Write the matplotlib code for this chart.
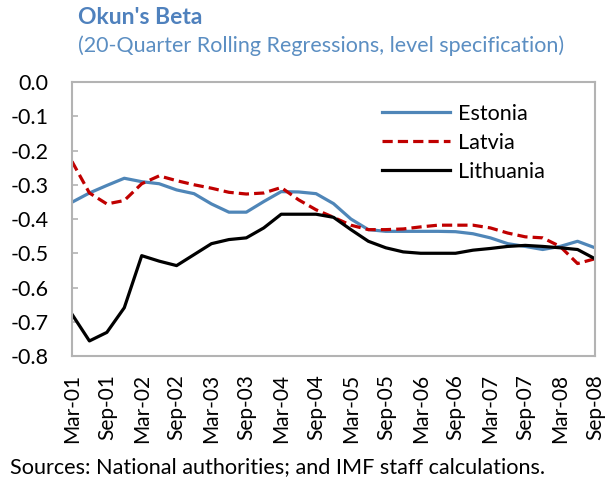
import matplotlib
matplotlib.use("Agg")
import matplotlib.pyplot as plt
from matplotlib.ticker import FuncFormatter

plt.rcParams['font.family'] = ['Lato', 'DejaVu Sans']
plt.rcParams['axes.unicode_minus'] = False

# quarterly data, Mar-01 .. Sep-08 (31 quarters)
quarter_labels = ['Mar-01', 'Sep-01', 'Mar-02', 'Sep-02', 'Mar-03', 'Sep-03',
                  'Mar-04', 'Sep-04', 'Mar-05', 'Sep-05', 'Mar-06', 'Sep-06',
                  'Mar-07', 'Sep-07', 'Mar-08', 'Sep-08']

estonia = [-0.351, -0.324, -0.302, -0.281, -0.291, -0.297, -0.315, -0.326,
           -0.356, -0.380, -0.380, -0.349, -0.320, -0.321, -0.326, -0.355,
           -0.400, -0.431, -0.436, -0.436, -0.436, -0.436, -0.437, -0.443,
           -0.455, -0.472, -0.480, -0.489, -0.480, -0.465, -0.484]

latvia = [-0.232, -0.324, -0.356, -0.346, -0.297, -0.274, -0.288, -0.300,
          -0.310, -0.322, -0.327, -0.324, -0.308, -0.344, -0.373, -0.395,
          -0.418, -0.431, -0.431, -0.429, -0.423, -0.418, -0.418, -0.418,
          -0.426, -0.441, -0.452, -0.455, -0.480, -0.530, -0.516]

lithuania = [-0.678, -0.756, -0.731, -0.659, -0.507, -0.523, -0.536, -0.504,
             -0.472, -0.460, -0.455, -0.426, -0.386, -0.386, -0.386, -0.395,
             -0.431, -0.465, -0.484, -0.496, -0.500, -0.500, -0.500, -0.491,
             -0.486, -0.480, -0.477, -0.480, -0.484, -0.489, -0.516]

x = list(range(len(estonia)))
frame_gray = '#B3B3B3'

fig = plt.figure(figsize=(6.07, 4.83), dpi=100)
ax = fig.add_axes([0.1186, 0.2629, 0.8616, 0.5673])

ax.plot(x, estonia, color='#4F86B8', lw=2.3, label='Estonia')
ax.plot(x, latvia, color='#C00000', lw=2.3, dashes=(3.2, 1.6), label='Latvia')
ax.plot(x, lithuania, color='black', lw=2.3, label='Lithuania')

ax.set_xlim(0, 30)
ax.set_ylim(-0.8, 0.0)
ax.set_yticks([0.0, -0.1, -0.2, -0.3, -0.4, -0.5, -0.6, -0.7, -0.8])
ax.yaxis.set_major_formatter(FuncFormatter(lambda v, p: f'{v:.1f}' if abs(v) > 1e-9 else '0.0'))

ax.set_xticks(x[::2])
ax.set_xticklabels(quarter_labels, rotation=90)
ax.set_xticks(x[::4], minor=True)

ax.tick_params(axis='x', which='major', length=0, pad=13, labelsize=15)
ax.tick_params(axis='x', which='minor', bottom=False, top=True, direction='out',
               length=5.5, color=frame_gray, width=1.2)
ax.tick_params(axis='y', direction='in', length=4.5, color=frame_gray, width=1.2,
               pad=17, labelsize=15.5)

for s in ax.spines.values():
    s.set_color(frame_gray)
    s.set_linewidth(1.5)

ax.legend(loc='upper left', bbox_to_anchor=(0.592, 0.92), frameon=False,
          fontsize=15.5, handlelength=3.2, handletextpad=0.35,
          labelspacing=0.42, borderpad=0, borderaxespad=0)

fig.text(78 / 607, 1 - 17 / 483, "Okun's Beta", color='#4F81BD',
         fontsize=16.5, fontweight='bold', va='center', ha='left')
fig.text(78 / 607, 1 - 46 / 483,
         '(20-Quarter Rolling Regressions, level specification)',
         color='#5B8EC2', fontsize=15.5, va='center', ha='left')
fig.text(10 / 607, 1 - 467 / 483,
         'Sources: National authorities; and IMF staff calculations.',
         color='black', fontsize=15.6, va='center', ha='left')

plt.savefig('out.png', dpi=100)
